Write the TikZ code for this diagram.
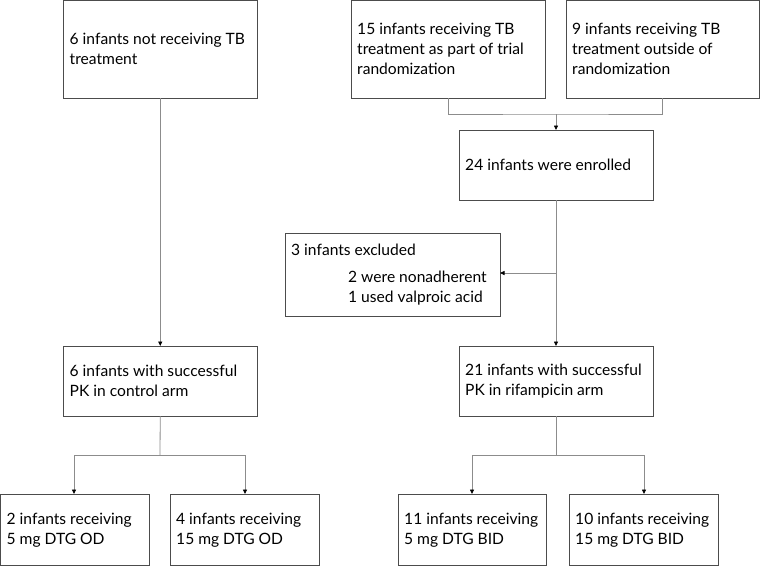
\documentclass[tikz,border=0pt]{standalone}
\usepackage{fontspec}
\setmainfont{Lato}
\usetikzlibrary{arrows.meta,positioning}
\tikzset{
  box/.style={draw=black!70, line width=0.8pt, rectangle, inner sep=0pt, outer sep=0pt},
  txt/.style={inner sep=0pt, anchor=west, align=left, font=\fontsize{15.6}{20}\selectfont},
  conn/.style={draw=black!45, line width=0.8pt},
  arr/.style={conn, -{Triangle[length=4.5pt,width=4pt,color=black,fill=black]}},
}
\newcommand{\mkbox}[6]{% name, x1, y1, x2, y2, text
  \node[box, minimum width=#4pt-#2pt, minimum height=#5pt-#3pt] (#1) at ({(#2+#4)/2}, {(#3+#5)/2}) {};
  \node[txt] (#1t) at ([xshift=6pt]#1.west) {#6};}
\begin{document}
\begin{tikzpicture}[x=1pt,y=-1pt]
\useasboundingbox (0,0) rectangle (760,566);
\mkbox{a}{63.5}{0.5}{257}{98}{6 infants not receiving TB\\treatment}
\mkbox{b}{351}{0.5}{545}{98}{15 infants receiving TB\\treatment as part of trial\\randomization}
\mkbox{c}{566}{0.5}{759.5}{98}{9 infants receiving TB\\treatment outside of\\randomization}
\mkbox{d}{459}{130}{653}{200}{24 infants were enrolled}
\mkbox{f}{285}{233}{500}{316}{3 infants excluded\\[7pt]\hspace*{57pt}2 were nonadherent\\\hspace*{57pt}1 used valproic acid}
\mkbox{g}{63.5}{346}{257}{416}{6 infants with successful\\PK in control arm}
\mkbox{e}{459}{346}{653}{416}{21 infants with successful\\PK in rifampicin arm}
\mkbox{h}{0.5}{494}{149}{565.5}{2 infants receiving\\5 mg DTG OD}
\mkbox{i}{170}{494}{319}{565.5}{4 infants receiving\\15 mg DTG OD}
\mkbox{j}{398}{494}{546}{565.5}{11 infants receiving\\5 mg DTG BID}
\mkbox{k}{569}{494}{718}{565.5}{10 infants receiving\\15 mg DTG BID}
% top merge
\coordinate (m) at (556,114);
\draw[conn] (b.south) |- (m) -| (c.south);
\draw[arr] (m) -- (d.north);
% exclusion
\coordinate (x) at (556,273);
\draw[arr] (x) -- (x -| f.east);
\draw[arr] (d.south) -- (e.north);
% left column
\draw[arr] (a.south) -- (g.north);
% bottom splits
\coordinate (gl) at (160,455);
\draw[conn] (g.south) -- (gl);
\draw[arr] (gl) -| (74,494);
\draw[arr] (gl) -| (245,494);
\coordinate (el) at (556,455);
\draw[conn] (e.south) -- (el);
\draw[arr] (el) -| (472,494);
\draw[arr] (el) -| (644,494);
\end{tikzpicture}
\end{document}
